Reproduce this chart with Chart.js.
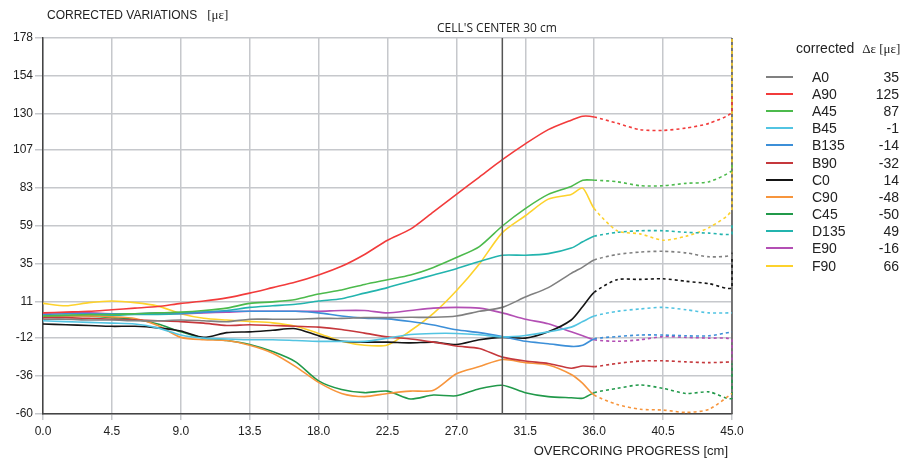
<!DOCTYPE html>
<html lang="en">
<head>
  <meta charset="UTF-8">
  <title>Corrected Variations</title>
  <script src="https://cdn.jsdelivr.net/npm/chart.js"></script>
  <style>
    body {
      margin: 0;
      background: #fff;
      font-family: "Liberation Sans", Arial, sans-serif;
      color: #222;
    }
    #wrap {
      position: relative;
      width: 908px;
      height: 464px;
    }
    #chart {
      position: absolute;
      left: 0;
      top: 0;
    }
    .yTitle {
      position: absolute;
      left: 47px;
      top: 7px;
      font-size: 12px;
      white-space: nowrap;
    }
    .serif {
      font-family: "Liberation Serif", "Times New Roman", serif;
      font-size: 13px;
    }
    .marker {
      position: absolute;
      left: 437px;
      top: 19px;
      font-family: "Open Sans", "Noto Sans", sans-serif;
      font-size: 12px;
      white-space: nowrap;
    }
    .xTitle {
      position: absolute;
      right: 180px;
      top: 443px;
      font-size: 13px;
      white-space: nowrap;
    }
    #legend {
      position: absolute;
      left: 766px;
      top: 38px;
      font-size: 14px;
    }
    #legend .head {
      margin-left: 30px;
      height: 30px;
      line-height: 20px;
      white-space: nowrap;
    }
    #legend .row {
      display: flex;
      align-items: center;
      height: 17.2px;
    }
    #legend .swatch {
      width: 27px;
      height: 2px;
      margin-right: 19px;
    }
    #legend .name {
      width: 50px;
    }
    #legend .val {
      width: 37px;
      text-align: right;
    }
  </style>
</head>
<body>
  <div id="wrap">
    <canvas id="chart" width="908" height="464"></canvas>
    <div class="yTitle">CORRECTED VARIATIONS &nbsp;&nbsp;<span class="serif">[με]</span></div>
    <div class="marker">CELL'S CENTER 30 cm</div>
    <div class="xTitle">OVERCORING PROGRESS [cm]</div>
    <div id="legend"></div>
  </div>

  <script>
    // overcoring progress [cm]; solid up to 36, dotted after (45 twice: end jump at the edge)
    const progress = [0, 1.5, 3, 4.5, 6, 7.5, 9, 10.5, 12, 13.5, 15, 16.5, 18, 19.5, 21, 22.5, 24, 25.5, 27, 28.5, 30, 31.5, 33, 34.5, 35.25, 36, 37.5, 39, 40.5, 42, 43.5, 45, 45];

    const names = ["A0", "A90", "A45", "B45", "B135", "B90", "C0", "C90", "C45", "D135", "E90", "F90"];
    const finalDelta = [35, 125, 87, -1, -14, -32, 14, -48, -50, 49, -16, 66];

    const A0 = [0, 0, -0.5, -0.5, -1, -1, -0.5, -1, -1.6, 0, 0, 0, 0.5, 0.5, 1, 1, 1.2, 1.2, 2, 5, 7.5, 14, 20, 29, 33, 37.5, 41, 42.5, 43, 42, 39.5, 40.5, 44];
    const A90 = [4, 4.5, 5, 6, 7, 8, 10, 11.5, 13.5, 16.5, 20, 23.5, 28, 33.5, 41, 50, 57, 68, 79, 90, 101, 111, 120, 126, 128.5, 128, 124, 120, 119.5, 121, 124, 131, 141];
    const A45 = [2, 2.5, 3, 3, 3.5, 4, 4.5, 5.5, 7, 10, 11, 12.5, 16, 18.5, 22, 25, 28, 32.8, 39, 46, 59, 70, 79, 84, 88, 88, 87, 84.5, 84.5, 86, 87, 94, 98];
    const B45 = [-1, -1.5, -2, -2.5, -3, -5.5, -10, -12, -12.5, -13, -13, -13.5, -14, -14, -14, -12, -9.7, -9, -9, -9.8, -11.2, -10.3, -8, -5, -1.5, 2, 5, 6.5, 7.5, 6, 4, 4, 4];
    const B135 = [3, 3.5, 3.5, 3.5, 3.5, 4, 4, 4.5, 5, 5, 5, 5, 4, 2, 0.7, 0.2, -1.5, -3.7, -6.7, -8.5, -11, -14, -15.5, -17.2, -16.5, -12.5, -11, -10, -10, -10.5, -10.5, -8, -8];
    const B90 = [1, 1, 0.5, 0, -0.5, -1, -1.5, -2.5, -4, -3.5, -4, -4.5, -5, -6.5, -8.8, -11.2, -12.5, -14.5, -17, -18.5, -24, -26.5, -28, -31, -29.6, -30, -28, -26.5, -26.3, -27, -27.5, -27, -27];
    const C0 = [-3, -3.5, -4, -4.5, -4.5, -5.5, -7.5, -11.5, -8.5, -8, -7, -6, -10.5, -14, -14.5, -14.5, -15, -14.5, -16, -13, -11.5, -12, -8, -0.5, 8, 17, 25, 25.2, 25.6, 24, 22.5, 20, 44];
    const C90 = [2, 2, 2, 1.5, 0.5, -4, -11.5, -13, -13.5, -16.5, -21.5, -30, -40, -47, -49, -47, -45.5, -45, -34.5, -30, -25.5, -27.5, -29, -35, -40.6, -48, -54, -57, -57.5, -59, -57, -47, -47];
    const C45 = [2, 2.5, 2, 1, 0, -3, -8, -12, -13.5, -16, -20.5, -27, -39, -44.5, -46.5, -45.5, -50.5, -48, -48.5, -44, -41.8, -46.5, -49, -49.7, -50, -46.5, -43.8, -41.6, -43.8, -47, -46, -50, -28];
    const D135 = [2, 2, 2.5, 2.5, 3, 3, 3.5, 4.5, 5.5, 7.5, 8.5, 9.5, 11.5, 13, 16.5, 20, 24, 28, 32, 36.5, 40.5, 40.5, 41.5, 45, 49, 52.5, 55, 56, 56, 55, 54.5, 54, 61];
    const E90 = [4, 4, 4, 3.5, 3.5, 3.5, 3.5, 4, 4.5, 5, 5, 5, 5, 5.5, 5.5, 4, 5.5, 7, 7.5, 7, 4, 0, -2.9, -8, -10.5, -13, -14, -13, -11, -11.5, -12, -13, -26];
    const F90 = [10, 8.5, 10.5, 11.5, 10.5, 8.3, 3.5, 0.6, -0.5, -1.4, -2.3, -4.5, -9, -14, -16.5, -16.3, -7.3, 3.7, 18, 35, 54.8, 65.5, 76, 79, 83, 70, 56, 54, 50, 52.5, 58, 70, 178];

    const seriesValues = [A0, A90, A45, B45, B135, B90, C0, C90, C45, D135, E90, F90];
    const colors = ["#808080", "#f23b3b", "#4cba4c", "#52c4e2", "#3c8fd8", "#c5383c", "#151515", "#f7953c", "#21994a", "#23b4ae", "#b34fb4", "#fdd22c"];

    const yTicks = [-60, -36, -12, 11, 35, 59, 83, 107, 130, 154, 178];
    const xTicks = [0, 4.5, 9, 13.5, 18, 22.5, 27, 31.5, 36, 40.5, 45];
    const cellCenter = 30;
    const solidEnd = 36;

    // legend
    const legend = document.getElementById("legend");
    legend.innerHTML = '<div class="head">corrected &nbsp;<span class="serif">Δε [με]</span></div>';
    names.forEach((n, i) => {
      legend.innerHTML += '<div class="row"><div class="swatch" style="background:' + colors[i] + '"></div>' +
        '<div class="name">' + n + '</div><div class="val">' + finalDelta[i] + '</div></div>';
    });

    const datasets = names.map((n, i) => ({
      label: n,
      data: progress.map((x, j) => ({ x: x, y: seriesValues[i][j] })),
      borderColor: colors[i],
      borderWidth: 1.6,
      pointRadius: 0,
      tension: 0.25,
      fill: false,
      clip: 4,
      segment: {
        borderDash: ctx => progress[ctx.p0DataIndex] >= solidEnd ? [3, 3] : []
      }
    }));

    // frame on the right + cell's center line
    const framePlugin = {
      id: "frame",
      beforeDatasetsDraw(chart) {
        const { ctx, chartArea } = chart;
        ctx.save();
        ctx.strokeStyle = "#555";
        ctx.lineWidth = 1.5;
        ctx.beginPath();
        ctx.moveTo(chartArea.right, chartArea.top);
        ctx.lineTo(chartArea.right, chartArea.bottom);
        ctx.stroke();
        ctx.restore();
      },
      afterDatasetsDraw(chart) {
        const { ctx, chartArea, scales } = chart;
        const cx = scales.x.getPixelForValue(cellCenter);
        ctx.save();
        ctx.strokeStyle = "#555";
        ctx.lineWidth = 1.5;
        ctx.beginPath();
        ctx.moveTo(cx, chartArea.top);
        ctx.lineTo(cx, chartArea.bottom);
        ctx.stroke();
        ctx.restore();
      }
    };

    new Chart(document.getElementById("chart"), {
      type: "line",
      data: { datasets: datasets },
      plugins: [framePlugin],
      options: {
        responsive: false,
        animation: false,
        devicePixelRatio: 1,
        layout: { padding: { left: 0, top: 38, right: 176, bottom: 0 } },
        plugins: {
          legend: { display: false },
          tooltip: { enabled: false }
        },
        scales: {
          x: {
            type: "linear",
            min: 0,
            max: 45,
            afterFit(scale) { scale.height = 50; },
            afterBuildTicks(scale) { scale.ticks = xTicks.map(v => ({ value: v })); },
            ticks: {
              color: "#222",
              font: { family: "Liberation Sans", size: 12 },
              padding: 4,
              maxRotation: 0,
              callback: v => v.toFixed(1)
            },
            grid: { color: "#c6c8cc", lineWidth: 1.5, tickLength: 6 },
            border: { color: "#444", width: 1.5 }
          },
          y: {
            min: -60,
            max: 178,
            afterFit(scale) { scale.width = 43; },
            afterBuildTicks(scale) { scale.ticks = yTicks.map(v => ({ value: v })); },
            ticks: {
              color: "#222",
              font: { family: "Liberation Sans", size: 12 },
              padding: 2
            },
            grid: { color: "#c6c8cc", lineWidth: 1.5, tickLength: 8 },
            border: { color: "#444", width: 1.5 }
          }
        }
      }
    });
  </script>
</body>
</html>
